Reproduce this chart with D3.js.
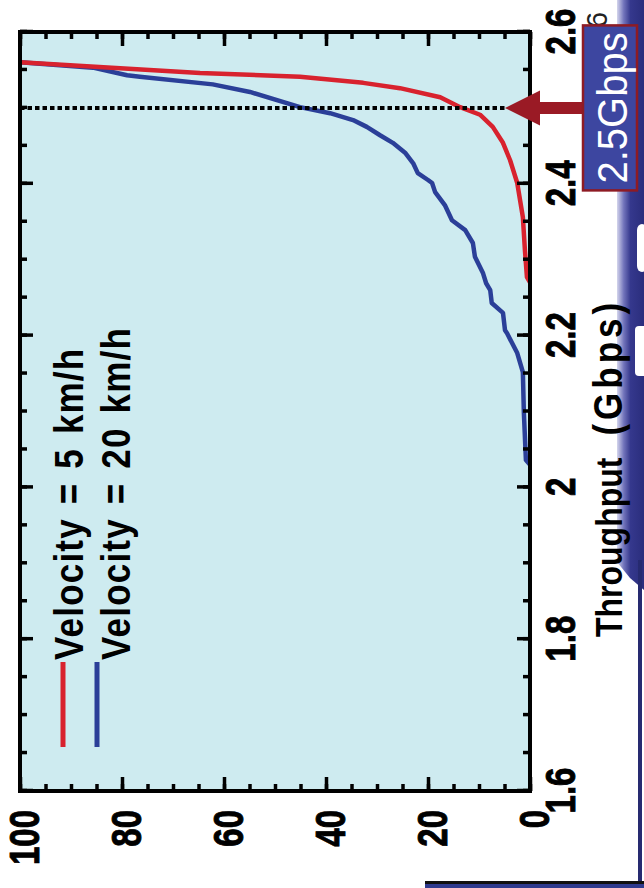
<!DOCTYPE html>
<html>
<head>
<meta charset="utf-8">
<script src="https://cdn.jsdelivr.net/npm/d3@7"></script>
<style>
  body { margin: 0; background: #fff; }
  svg { display: block; }
  text { font-family: "Liberation Sans", Arial, "Noto Sans CJK JP", sans-serif; }
</style>
</head>
<body>
<div id="chart"></div>
<script>
// Chart values
const throughputTicks = [1.6, 1.8, 2, 2.2, 2.4, 2.6];
const cdfTicks = [0, 20, 40, 60, 80, 100];
const seriesNames = ["Velocity = 5 km/h", "Velocity = 20 km/h"];

// 5 km/h: throughput (Gbps) and CDF (%)
const slowThroughput = [2.270, 2.277, 2.313, 2.356, 2.401, 2.431, 2.454, 2.475, 2.491, 2.501, 2.514, 2.526, 2.533, 2.541, 2.546, 2.553, 2.560];
const slowCdf = [0, 0.6, 1.0, 1.4, 2.5, 3.9, 5.3, 7.3, 9.8, 13.7, 17.6, 25.5, 32.7, 45.1, 64.7, 82, 100];

// 20 km/h
const fastThroughput = [2.030, 2.036, 2.098, 2.152, 2.177, 2.203, 2.207, 2.230, 2.243, 2.260, 2.269, 2.282, 2.304, 2.322, 2.339, 2.352, 2.372, 2.389, 2.401, 2.405, 2.414, 2.427, 2.441, 2.454, 2.464, 2.475, 2.484, 2.493, 2.501, 2.521, 2.531, 2.541, 2.543, 2.553, 2.560];
const fastCdf = [0, 0.8, 1.2, 1.4, 2.5, 4.5, 4.9, 5.3, 7.5, 7.8, 8.6, 9.2, 10.8, 11.2, 12.7, 15.3, 16.7, 18.6, 19.2, 20.0, 22.0, 22.9, 24.5, 26.9, 29.4, 32.0, 34.7, 39.2, 45.1, 54.9, 62.2, 76.5, 79.0, 85.7, 100];

const targetThroughput = 2.5;
const targetLabel = "2.5Gbps";

const colors = ["#d8222e", "#2b3f98"];
const series = [
    slowThroughput.map((t, i) => ({ t, p: slowCdf[i] })),
    fastThroughput.map((t, i) => ({ t, p: fastCdf[i] }))
];

const width = 644, height = 888;
const svg = d3.select("#chart")
    .append("svg")
    .attr("width", width)
    .attr("height", height);

// slide decoration on the right / bottom
const defs = svg.append("defs");
const grad = defs.append("linearGradient").attr("id", "band").attr("x1", 0).attr("x2", 1);
grad.append("stop").attr("offset", 0).attr("stop-color", "#d4d5ec");
grad.append("stop").attr("offset", 0.25).attr("stop-color", "#7274bb");
grad.append("stop").attr("offset", 0.5).attr("stop-color", "#35388d");
grad.append("stop").attr("offset", 1).attr("stop-color", "#2a2d7c");

svg.append("path")
    .attr("d", "M617,0 L644,0 L644,590 L630,578 L617,562 Z")
    .attr("fill", "url(#band)");
svg.append("rect").attr("x", 637).attr("y", 224).attr("width", 10).attr("height", 48).attr("rx", 6).attr("fill", "#fff");
svg.append("rect").attr("x", 635).attr("y", 326).attr("width", 12).attr("height", 50).attr("rx", 4).attr("fill", "#fff");
svg.append("rect").attr("x", 638).attr("y", 560).attr("width", 4).attr("height", 325).attr("fill", "#262a70");
svg.append("rect").attr("x", 425).attr("y", 881).attr("width", 219).attr("height", 3).attr("fill", "#111");
svg.append("rect").attr("x", 425).attr("y", 884).attr("width", 219).attr("height", 4).attr("fill", "#2f3a8e");

// the chart itself is drawn rotated by -90 degrees
const plotLen = 759, plotDepth = 510;
const g = svg.append("g").attr("transform", "translate(20,791) rotate(-90)");

const x = d3.scaleLinear().domain([1.6, 2.6]).range([0, plotLen]);
const y = d3.scaleLinear().domain([0, 100]).range([plotDepth, 0]);

g.append("rect")
    .attr("width", plotLen)
    .attr("height", plotDepth)
    .attr("fill", "#ceebf0");

defs.append("clipPath").attr("id", "clip")
    .append("rect").attr("width", plotLen).attr("height", plotDepth);

const line = d3.line().x(d => x(d.t)).y(d => y(d.p));

g.append("g").attr("clip-path", "url(#clip)")
    .selectAll("path")
    .data(series.slice().reverse())
    .join("path")
    .attr("d", line)
    .attr("fill", "none")
    .attr("stroke", (d, i) => colors[1 - i])
    .attr("stroke-width", 4.5)
    .attr("stroke-linejoin", "round");

// dashed marker at 2.5 Gbps
g.append("line")
    .attr("x1", x(targetThroughput)).attr("x2", x(targetThroughput))
    .attr("y1", 0).attr("y2", 485)
    .attr("stroke", "#000")
    .attr("stroke-width", 4)
    .attr("stroke-dasharray", "4.5,3");

// axes (ticks point inward)
const tickStretch = 1.3;
function styleAxis(sel) {
    sel.attr("font-size", null).attr("font-family", null);
    sel.select(".domain").remove();
    sel.selectAll("line").attr("stroke", "#000").attr("stroke-width", 3.5);
}
function styleLabels(sel) {
    sel.attr("font-size", 33)
        .attr("font-weight", "bold")
        .attr("fill", "#000")
        .attr("stroke", "#000")
        .attr("stroke-width", 0.7);
}

g.append("g").attr("transform", `translate(0,${plotDepth})`)
    .call(d3.axisBottom(x).tickValues(x.ticks(20)).tickSize(-7).tickFormat(""))
    .call(styleAxis);
g.append("g").attr("transform", `translate(0,${plotDepth})`)
    .call(d3.axisBottom(x).tickValues(throughputTicks).tickSize(-13).tickFormat(d => d))
    .call(styleAxis)
    .call(a => a.selectAll("text")
        .attr("y", null)
        .attr("dy", "0.71em")
        .attr("transform", `translate(0,15) scale(1,${tickStretch})`)
        .call(styleLabels));

g.append("g")
    .call(d3.axisTop(x).tickValues(x.ticks(20)).tickSize(-7).tickFormat(""))
    .call(styleAxis);
g.append("g")
    .call(d3.axisTop(x).tickValues(throughputTicks).tickSize(-13).tickFormat(""))
    .call(styleAxis);

g.append("g")
    .call(d3.axisLeft(y).tickValues(y.ticks(20)).tickSize(-7).tickFormat(""))
    .call(styleAxis);
g.append("g")
    .call(d3.axisLeft(y).tickValues(cdfTicks).tickSize(-14).tickFormat(d => d))
    .call(styleAxis)
    .call(a => a.selectAll("text")
        .attr("x", null)
        .attr("dy", "0.32em")
        .attr("transform", `translate(-19,5) scale(1,${tickStretch})`)
        .call(styleLabels));

g.append("g").attr("transform", `translate(${plotLen},0)`)
    .call(d3.axisRight(y).tickValues(y.ticks(20)).tickSize(-7).tickFormat(""))
    .call(styleAxis);
g.append("g").attr("transform", `translate(${plotLen},0)`)
    .call(d3.axisRight(y).tickValues(cdfTicks).tickSize(-14).tickFormat(""))
    .call(styleAxis);

g.append("rect")
    .attr("width", plotLen)
    .attr("height", plotDepth)
    .attr("fill", "none")
    .attr("stroke", "#000")
    .attr("stroke-width", 4);

// axis title
const title = g.append("text")
    .attr("transform", "translate(154,602) scale(1,1.18)")
    .attr("font-size", 32)
    .attr("font-weight", "bold")
    .text("Throughput");
title.append("tspan")
    .attr("dx", 22)
    .attr("font-size", 35)
    .attr("letter-spacing", 4)
    .text("(Gbps)");

// legend
const legendLineY = [43, 77];
const legendTextY = [63, 110];
const legend = g.append("g");
seriesNames.forEach((name, i) => {
    legend.append("line")
        .attr("x1", 44).attr("x2", 129)
        .attr("y1", legendLineY[i]).attr("y2", legendLineY[i])
        .attr("stroke", colors[i])
        .attr("stroke-width", 5);
    legend.append("text")
        .attr("transform", `translate(131,${legendTextY[i]}) scale(1,1.15)`)
        .attr("font-size", 35)
        .attr("font-weight", "bold")
        .attr("letter-spacing", 1.2)
        .attr("word-spacing", 3)
        .text(name);
});

// stray "6" from the slide behind
g.append("text")
    .attr("transform", "translate(763,587)")
    .attr("font-size", 29)
    .attr("fill", "#222")
    .text("6");

// arrow and label box
const tx = x(targetThroughput);
g.append("path")
    .attr("d", `M${tx},485 L${tx + 17.5},520 L${tx + 6},520 L${tx + 6},565 L${tx - 6},565 L${tx - 6},520 L${tx - 17.5},520 Z`)
    .attr("fill", "#9a1a25");
g.append("rect")
    .attr("x", tx - 82.5).attr("y", 563)
    .attr("width", 165).attr("height", 54)
    .attr("fill", "#3d46a0")
    .attr("stroke", "#8e1b24")
    .attr("stroke-width", 2.5);
g.append("text")
    .attr("text-anchor", "middle")
    .attr("transform", `translate(${tx},607) scale(1,1.05)`)
    .attr("font-size", 40)
    .attr("fill", "#fff")
    .text(targetLabel);
</script>
</body>
</html>
